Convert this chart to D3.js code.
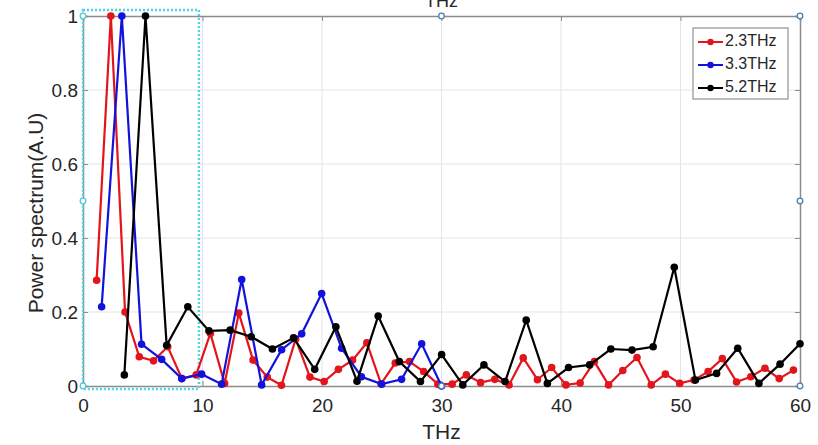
<!DOCTYPE html>
<html>
<head>
<meta charset="utf-8">
<script src="https://cdn.jsdelivr.net/npm/d3@7"></script>
<style>
  body { margin: 0; background: #fff; }
  svg text { font-family: 'Liberation Sans', Arial, sans-serif; }
</style>
</head>
<body>
<div id="chart"></div>
<script>
// series values (THz, normalised power)
const redX = [1.14, 2.33, 3.52, 4.71, 5.9, 7.09, 8.28, 9.47, 10.66, 11.85, 13.04, 14.23, 15.42, 16.61, 17.8,
  18.99, 20.18, 21.37, 22.56, 23.75, 24.94, 26.13, 27.32, 28.51, 29.7, 30.89, 32.08, 33.27, 34.46, 35.65,
  36.84, 38.03, 39.22, 40.41, 41.6, 42.79, 43.98, 45.17, 46.36, 47.55, 48.74, 49.93, 51.12, 52.31, 53.5,
  54.69, 55.88, 57.07, 58.26, 59.45];
const redY = [0.286, 1.0, 0.2, 0.079, 0.068, 0.106, 0.02, 0.03, 0.142, 0.007, 0.197, 0.07, 0.024, 0.002, 0.127,
  0.024, 0.012, 0.045, 0.07, 0.117, 0.006, 0.062, 0.066, 0.039, 0.005, 0.005, 0.03, 0.009, 0.018, 0.003,
  0.076, 0.017, 0.05, 0.003, 0.008, 0.066, 0.003, 0.042, 0.077, 0.003, 0.032, 0.007, 0.016, 0.039, 0.074,
  0.011, 0.025, 0.048, 0.02, 0.043];

const blueX = [1.56, 3.25, 4.9, 6.58, 8.26, 9.93, 11.6, 13.28, 14.95, 16.62, 18.3, 19.97, 21.64, 23.3,
  24.99, 26.66, 28.34, 30.0];
const blueY = [0.214, 1.0, 0.113, 0.072, 0.02, 0.032, 0.005, 0.288, 0.003, 0.098, 0.141, 0.25, 0.102, 0.025,
  0.005, 0.018, 0.114, 0.0];

const blackX = [3.46, 5.23, 7.0, 8.77, 10.54, 12.31, 14.08, 15.85, 17.62, 19.39, 21.16, 22.93, 24.7, 26.47,
  28.24, 30.01, 31.78, 33.55, 35.32, 37.09, 38.86, 40.63, 42.4, 44.17, 45.94, 47.71, 49.48, 51.25, 53.02,
  54.79, 56.56, 58.33, 60.0];
const blackY = [0.03, 1.0, 0.11, 0.214, 0.149, 0.151, 0.133, 0.1, 0.13, 0.045, 0.16, 0.013, 0.189, 0.066,
  0.012, 0.085, 0.003, 0.057, 0.012, 0.178, 0.007, 0.05, 0.057, 0.1, 0.097, 0.106, 0.321, 0.016, 0.034,
  0.102, 0.007, 0.059, 0.114];

const seriesNames = ['2.3THz', '3.3THz', '5.2THz'];
const seriesColors = ['#e3141c', '#1212dc', '#000000'];
const xTicks = [0, 10, 20, 30, 40, 50, 60];
const yTicks = [0, 0.2, 0.4, 0.6, 0.8, 1];

const series = [
  { name: seriesNames[0], color: seriesColors[0], pts: redX.map((x, i) => [x, redY[i]]) },
  { name: seriesNames[1], color: seriesColors[1], pts: blueX.map((x, i) => [x, blueY[i]]) },
  { name: seriesNames[2], color: seriesColors[2], pts: blackX.map((x, i) => [x, blackY[i]]) }
];

const width = 818;
const height = 445;
const margin = { top: 16, right: 18, bottom: 59, left: 83 };

const svg = d3.select('#chart').append('svg')
  .attr('width', width)
  .attr('height', height);

const x = d3.scaleLinear().domain([0, 60]).range([margin.left, width - margin.right]);
const y = d3.scaleLinear().domain([0, 1]).range([height - margin.bottom, margin.top]);

// grid
svg.append('g').selectAll('line.gx')
  .data(xTicks.slice(1, -1)).enter().append('line')
  .attr('x1', (d) => x(d)).attr('x2', (d) => x(d))
  .attr('y1', y(0)).attr('y2', y(1))
  .attr('stroke', '#e4e4e4').attr('stroke-width', 1);
svg.append('g').selectAll('line.gy')
  .data(yTicks.slice(1, -1)).enter().append('line')
  .attr('x1', x(0)).attr('x2', x(60))
  .attr('y1', (d) => y(d)).attr('y2', (d) => y(d))
  .attr('stroke', '#e4e4e4').attr('stroke-width', 1);

// axes box
const axisColor = '#8c8c8c';
svg.append('g')
  .attr('transform', `translate(0, ${y(0)})`)
  .call(d3.axisBottom(x).tickValues(xTicks).tickSize(-5).tickPadding(13).tickFormat(d3.format('d')));
svg.append('g')
  .attr('transform', `translate(${x(0)}, 0)`)
  .call(d3.axisLeft(y).tickValues(yTicks).tickSize(-5).tickPadding(5)
    .tickFormat((d) => (d === 0 || d === 1 ? d3.format('d')(d) : d3.format('.1f')(d))));
svg.append('g')
  .attr('transform', `translate(0, ${y(1)})`)
  .call(d3.axisTop(x).tickValues(xTicks).tickSize(-5).tickFormat(''));
svg.append('g')
  .attr('transform', `translate(${x(60)}, 0)`)
  .call(d3.axisRight(y).tickValues(yTicks).tickSize(-5).tickFormat(''));

svg.selectAll('.domain').attr('stroke', axisColor).attr('stroke-width', 1.5);
svg.selectAll('.tick line').attr('stroke', axisColor);
svg.selectAll('.tick text').attr('font-size', 19).attr('fill', '#262626')
  .attr('font-family', "'Liberation Sans', Arial, sans-serif");

// cyan dotted selection box
svg.append('rect')
  .attr('x', x(0)).attr('y', 10)
  .attr('width', x(9.7) - x(0)).attr('height', y(0) - 10 + 3)
  .attr('fill', 'none')
  .attr('stroke', '#52d3e3')
  .attr('stroke-width', 2.5)
  .attr('stroke-dasharray', '2 2');

// lines + markers
const line = d3.line().x((d) => x(d[0])).y((d) => y(d[1]));
series.forEach((s) => {
  svg.append('path')
    .datum(s.pts)
    .attr('fill', 'none')
    .attr('stroke', s.color)
    .attr('stroke-width', 2.2)
    .attr('d', line);
  svg.append('g').selectAll('circle')
    .data(s.pts).enter().append('circle')
    .attr('cx', (d) => x(d[0]))
    .attr('cy', (d) => y(d[1]))
    .attr('r', 3.8)
    .attr('fill', s.color);
});

// edit handles
const handles = [[0, 1], [30, 1], [60, 1], [60, 0.5], [60, 0], [30, 0], [0, 0], [0, 0.5]];
svg.append('g').selectAll('circle')
  .data(handles).enter().append('circle')
  .attr('cx', (d) => x(d[0]))
  .attr('cy', (d) => y(d[1]))
  .attr('r', 2.8)
  .attr('fill', '#fff')
  .attr('stroke', (d) => (d[0] === 0 ? '#52c8d8' : '#4b7fb3'))
  .attr('stroke-width', 1.3);

// labels
svg.append('text')
  .attr('x', x(30)).attr('y', 433)
  .attr('text-anchor', 'middle').attr('dominant-baseline', 'middle')
  .attr('font-size', 21).attr('fill', '#262626')
  .text('THz');
svg.append('text')
  .attr('x', x(30)).attr('y', 7)
  .attr('text-anchor', 'middle')
  .attr('font-size', 18).attr('fill', '#262626')
  .text('THz');
svg.append('text')
  .attr('transform', `translate(37, ${y(0.5) + 12}) rotate(-90)`)
  .attr('text-anchor', 'middle').attr('dominant-baseline', 'middle')
  .attr('font-size', 21).attr('fill', '#262626')
  .text('Power spectrum(A.U)');

// legend
const legend = svg.append('g').attr('transform', 'translate(693, 28)');
legend.append('rect')
  .attr('width', 95).attr('height', 71)
  .attr('fill', '#fff').attr('stroke', '#9a9a9a').attr('stroke-width', 1.3);
series.forEach((s, i) => {
  const g = legend.append('g').attr('transform', `translate(0, ${14 + i * 23})`);
  g.append('line').attr('x1', 5).attr('x2', 30).attr('stroke', s.color).attr('stroke-width', 2);
  g.append('circle').attr('cx', 17.5).attr('r', 3.2).attr('fill', s.color);
  g.append('text').attr('x', 32).attr('dominant-baseline', 'middle')
    .attr('font-size', 16).attr('fill', '#262626').text(s.name);
});
</script>
</body>
</html>
